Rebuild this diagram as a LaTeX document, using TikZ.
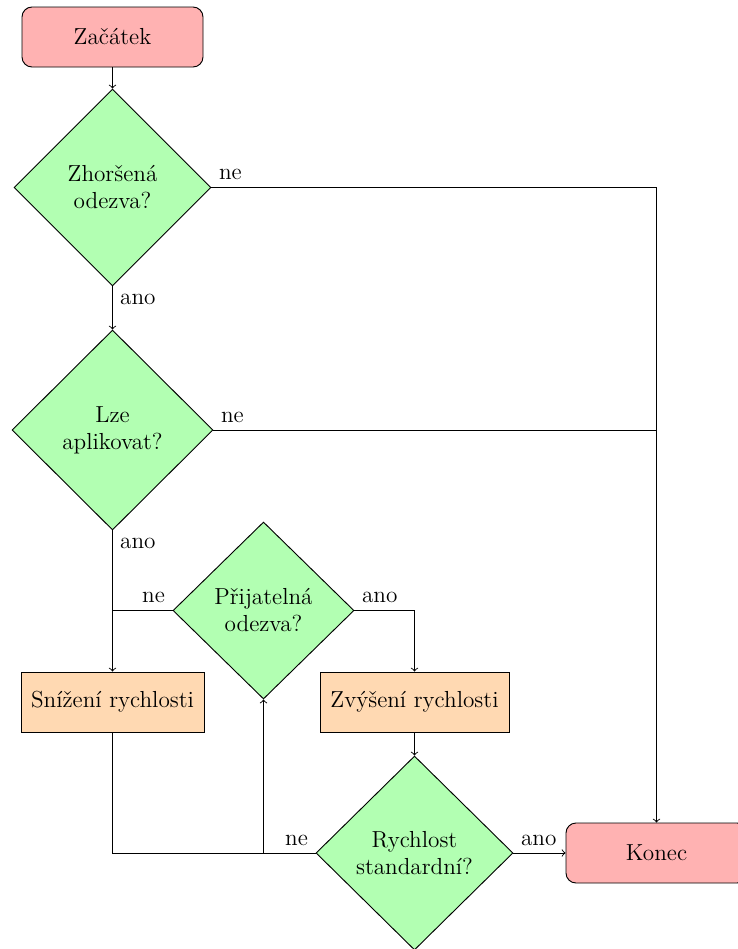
\documentclass[tikz,border=0pt]{standalone}
\usepackage{fontspec}
\usetikzlibrary{shapes.geometric,arrows}
\begin{document}
\begin{tikzpicture}[x=0.5pt,y=-0.5pt,
  font=\fontsize{11.6pt}{13.5pt}\selectfont,
  line width=0.46pt,
  term/.style={rectangle, rounded corners=5pt, draw, fill=red!30, minimum width=90.5pt, minimum height=30pt, inner sep=0pt},
  proc/.style={rectangle, draw, fill=orange!30, minimum height=30pt, inner sep=0pt},
  dec/.style={diamond, draw, fill=green!30, align=center, inner sep=0pt},
  arr/.style={->},
  lbl/.style={inner sep=3.6pt}]
\useasboundingbox (0,0) rectangle (738,949);
\clip (0,0) rectangle (738,949);
\node[term] (start) at (112.5,37) {Začátek};
\node[dec, minimum width=98.5pt, minimum height=98.5pt] (d1) at (112.5,187.5) {Zhoršená\\odezva?};
\node[dec, minimum width=100.5pt, minimum height=100pt] (d2) at (112.5,430) {Lze\\aplikovat?};
\node[dec, minimum width=90.5pt, minimum height=88.5pt] (d3) at (263.5,610.5) {Přijatelná\\odezva?};
\node[proc, minimum width=91.5pt] (snizeni) at (112.5,702) {Snížení rychlosti};
\node[proc, minimum width=94.5pt] (zvyseni) at (414.5,702) {Zvýšení rychlosti};
\node[dec, minimum width=98.5pt, minimum height=97pt] (d4) at (414.5,853) {Rychlost\\standardní?};
\node[term] (konec) at (656.5,853) {Konec};
\coordinate (j) at (d4.west -| d3.south);
\draw[arr] (start) -- (d1);
\draw[arr] (d1.east) -- node[pos=0, above right, lbl] {ne} (d1.east -| konec.north) -- (konec.north);
\draw (d2.east) -- node[pos=0, above right, lbl] {ne} (d2.east -| konec.north);
\draw[arr] (d1.south) -- node[pos=0, below right, lbl] {ano} (d2.north);
\draw[arr] (d2.south) -- node[pos=0, below right, lbl] {ano} (snizeni.north);
\draw (d3.west) -- node[pos=0, above left, lbl] {ne} (d3.west -| snizeni.north);
\draw[arr] (d3.east) -- node[pos=0, above right, lbl] {ano} (d3.east -| zvyseni.north) -- (zvyseni.north);
\draw[arr] (zvyseni) -- (d4);
\draw[arr] (d4.east) -- node[pos=0, above right, lbl] {ano} (konec.west);
\draw[arr] (d4.west) -- node[pos=0, above left, lbl] {ne} (j) -- (d3.south);
\draw (snizeni.south) |- (j);
\end{tikzpicture}
\end{document}
